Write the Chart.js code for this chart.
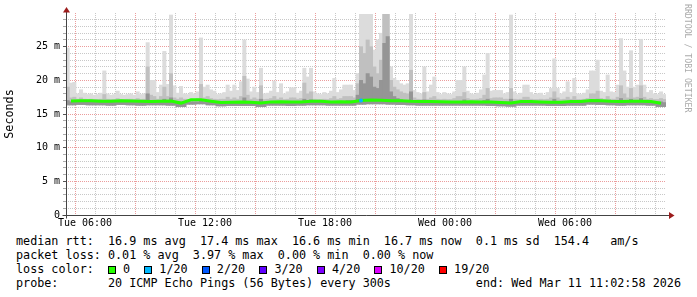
<!DOCTYPE html>
<html>
<head>
<meta charset="utf-8">
<title>Smokeping latency</title>
<script src="https://cdn.jsdelivr.net/npm/chart.js@4.4.1/dist/chart.umd.min.js"></script>
<style>
  body { margin: 0; background: #fff; }
  #wrap { position: relative; width: 697px; height: 297px; background: #fff; overflow: hidden; }
  #chart { position: absolute; left: 0; top: 0; }
  #legend {
    position: absolute; left: 16px; top: 234px;
    font-family: "DejaVu Sans Mono", monospace; font-size: 11.75px; line-height: 14px;
    white-space: pre; color: #000;
  }
  .box { display: inline-block; width: 6px; height: 6px; border: 1px solid #000; vertical-align: -1px; }
  #mark {
    position: absolute; left: 683px; top: 4px;
    writing-mode: vertical-rl;
    font-family: "DejaVu Sans Mono", monospace; font-size: 8.2px; line-height: 9px;
    color: #aaa; white-space: pre;
  }
</style>
</head>
<body>
<div id="wrap">
  <canvas id="chart" width="697" height="232"></canvas>
  <div id="mark">RRDTOOL / TOBI OETIKER</div>
  <div id="legend"></div>
</div>
<script>
// time axis in hours after Tue 00:00; plot covers Tue 05:03 .. Wed 11:03
const windowStart = 5.05;
const windowEnd = 35.05;
const smokeSlot = 1 / 6;   // 10 minute columns
const medianSlot = 0.5;    // 30 minute steps

// upper edge of the light smoke (max ping), ms
const smokeTop = [
  24.8, 19.6, 19.7, 18.0, 18.6, 18.1, 17.9, 18.0, 17.8, 17.9, 18.1, 21.4,
  18.0, 17.8, 17.9, 18.4, 17.9, 17.8, 17.9, 18.0, 17.8, 18.3, 17.9, 18.0,
  25.6, 20.0, 20.0, 18.2, 19.3, 24.3, 19.4, 29.7, 19.2, 18.1, 19.1, 18.0,
  17.9, 18.2, 18.0, 18.3, 26.3, 19.0, 19.3, 18.6, 18.4, 17.9, 18.0, 18.2,
  19.3, 18.4, 19.3, 18.5, 19.8, 26.0, 20.2, 18.3, 19.0, 18.2, 21.8, 18.0,
  18.1, 18.4, 19.9, 18.2, 19.5, 18.0, 18.3, 18.9, 18.9, 18.1, 18.4, 21.8,
  20.5, 21.8, 18.3, 18.0, 17.9, 18.2, 18.0, 18.4, 20.3, 18.2, 18.6, 19.3,
  19.3, 19.3, 18.5, 21.0, 29.8, 29.8, 29.8, 29.8, 24.5, 26.0, 27.0, 29.8,
  29.8, 22.0, 20.3, 20.0, 19.5, 19.3, 19.5, 29.8, 18.5, 18.2, 18.0, 22.0,
  18.3, 19.3, 20.5, 18.2, 17.9, 18.2, 18.0, 17.9, 18.3, 20.0, 20.0, 22.0,
  18.4, 18.0, 17.9, 18.1, 18.6, 20.8, 24.0, 18.4, 18.5, 18.5, 18.5, 18.0,
  18.2, 29.7, 18.3, 17.9, 18.1, 19.3, 19.3, 18.2, 17.9, 18.0, 18.1, 17.8,
  18.2, 18.8, 23.2, 18.8, 18.0, 18.3, 19.8, 18.2, 20.3, 18.0, 17.9, 18.1,
  18.6, 21.4, 21.4, 23.0, 18.4, 18.2, 20.8, 18.3, 18.2, 19.3, 26.2, 21.4,
  19.0, 24.4, 19.0, 19.3, 26.1, 19.3, 18.2, 18.5, 18.0, 17.9, 18.3, 17.9
];

// upper edge of the medium smoke
const smokeMid = [
  19.0, 17.4, 17.5, 17.2, 17.4, 17.2, 17.15, 17.2, 17.15, 17.15, 17.2, 17.9,
  17.2, 17.15, 17.15, 17.3, 17.15, 17.15, 17.2, 17.2, 17.15, 17.3, 17.15, 17.2,
  22.0, 17.8, 17.6, 17.2, 17.6, 19.0, 17.6, 21.0, 17.4, 17.2, 17.4, 17.2,
  17.15, 17.2, 17.15, 17.3, 19.4, 17.4, 17.6, 17.3, 17.2, 17.15, 17.2, 17.2,
  17.5, 17.2, 17.4, 17.2, 17.6, 20.6, 17.8, 17.2, 17.4, 17.2, 19.2, 17.15,
  17.2, 17.3, 17.6, 17.2, 17.4, 17.15, 17.2, 17.4, 17.4, 17.2, 17.3, 19.6,
  18.0, 18.3, 17.2, 17.15, 17.15, 17.2, 17.15, 17.3, 17.6, 17.2, 17.3, 17.6,
  17.6, 17.6, 17.4, 19.5, 25.0, 24.0, 26.0, 25.0, 22.0, 21.0, 23.0, 29.8,
  29.8, 20.0, 19.0, 18.6, 18.3, 18.1, 18.0, 21.5, 17.4, 17.2, 17.15, 18.2,
  17.2, 17.4, 17.6, 17.2, 17.15, 17.2, 17.15, 17.15, 17.3, 17.6, 17.6, 18.2,
  17.3, 17.15, 17.15, 17.2, 17.3, 17.8, 18.8, 17.3, 17.4, 17.4, 17.4, 17.2,
  17.2, 18.8, 17.2, 17.15, 17.2, 17.5, 17.5, 17.2, 17.15, 17.15, 17.2, 17.15,
  17.2, 17.4, 18.3, 17.4, 17.15, 17.2, 17.5, 17.2, 17.6, 17.15, 17.15, 17.2,
  17.3, 18.0, 18.0, 18.4, 17.3, 17.2, 17.6, 17.2, 17.2, 17.5, 19.2, 18.0,
  17.4, 18.8, 17.4, 17.5, 19.2, 17.5, 17.2, 17.3, 17.15, 17.15, 17.3, 17.15
];

// upper edge of the dark smoke core
const smokeDark = [
  17.0, 16.8, 16.8, 16.8, 16.8, 16.8, 16.8, 16.8, 16.8, 16.8, 16.8, 16.9,
  16.8, 16.8, 16.8, 16.8, 16.8, 16.8, 16.8, 16.8, 16.8, 16.8, 16.8, 16.8,
  18.0, 16.9, 16.8, 16.8, 16.8, 17.2, 16.8, 17.4, 16.8, 16.8, 16.8, 16.8,
  16.8, 16.8, 16.8, 16.8, 17.1, 16.8, 16.8, 16.8, 16.8, 16.8, 16.8, 16.8,
  16.8, 16.8, 16.8, 16.8, 16.8, 17.4, 16.9, 16.8, 16.8, 16.8, 17.2, 16.8,
  16.8, 16.8, 16.8, 16.8, 16.8, 16.8, 16.8, 16.8, 16.8, 16.8, 16.8, 17.2,
  17.0, 17.1, 16.8, 16.8, 16.8, 16.8, 16.8, 16.8, 16.8, 16.8, 16.8, 16.8,
  17.0, 17.0, 16.9, 17.8, 20.0, 19.5, 21.0, 20.5, 19.0, 18.8, 20.0, 25.5,
  26.5, 18.3, 17.6, 17.3, 17.1, 17.0, 17.0, 18.3, 16.9, 16.8, 16.8, 17.1,
  16.8, 16.8, 16.9, 16.8, 16.8, 16.8, 16.8, 16.8, 16.8, 16.8, 16.8, 17.1,
  16.8, 16.8, 16.8, 16.8, 16.8, 17.0, 17.2, 16.8, 16.8, 16.8, 16.8, 16.8,
  16.8, 17.2, 16.8, 16.8, 16.8, 16.8, 16.8, 16.8, 16.8, 16.8, 16.8, 16.8,
  16.8, 16.8, 17.2, 16.8, 16.8, 16.8, 16.8, 16.8, 17.0, 16.8, 16.8, 16.8,
  16.8, 17.1, 17.1, 17.2, 16.8, 16.8, 17.0, 16.8, 16.8, 16.8, 17.3, 17.0,
  16.8, 17.2, 16.8, 16.8, 17.3, 16.8, 16.8, 16.8, 16.8, 16.8, 16.8, 16.7
];

// lower edge of the smoke (min ping), 30 minute steps
const smokeLow = [
  16.35, 16.4, 16.35, 16.35, 16.3, 16.4, 16.35, 16.3, 16.35, 16.35, 16.3, 16.1,
  16.45, 16.5, 16.35, 16.2, 16.25, 16.25, 16.25, 16.1, 16.3, 16.3, 16.25, 16.3,
  16.35, 16.35, 16.3, 16.3, 16.3, 16.45, 16.5, 16.5, 16.45, 16.4, 16.35, 16.3,
  16.3, 16.3, 16.3, 16.3, 16.3, 16.3, 16.25, 16.2, 16.15, 16.3, 16.3, 16.3,
  16.25, 16.25, 16.3, 16.3, 16.45, 16.4, 16.35, 16.3, 16.35, 16.35, 16.3, 16.1
];

// median rtt, 30 minute steps
const medianRtt = [
  16.93, 16.95, 16.95, 16.9, 16.88, 16.95, 16.92, 16.88, 16.87, 16.9, 16.92, 16.62,
  17.1, 17.12, 16.9, 16.7, 16.75, 16.78, 16.75, 16.62, 16.8, 16.82, 16.78, 16.8,
  16.9, 16.9, 16.8, 16.82, 16.8, 17.0, 17.08, 17.05, 16.98, 16.95, 16.88, 16.85,
  16.85, 16.82, 16.8, 16.8, 16.82, 16.8, 16.78, 16.72, 16.65, 16.85, 16.85, 16.8,
  16.75, 16.75, 16.85, 16.85, 17.0, 16.95, 16.88, 16.85, 16.88, 16.88, 16.85, 16.6
];

// lost pings out of 20, 30 minute steps
const lossCount = [
  0, 0, 0, 0, 0, 0, 0, 0, 0, 0, 0, 0,
  0, 0, 0, 0, 0, 0, 0, 0, 0, 0, 0, 0,
  0, 0, 0, 0, 0, 1, 0, 0, 0, 0, 0, 0,
  0, 0, 0, 0, 0, 0, 0, 0, 0, 0, 0, 0,
  0, 0, 0, 0, 0, 0, 0, 0, 0, 0, 0, 0
];

const lossSteps = [0, 1, 2, 3, 4, 10, 19];
const lossLabels = ['0', '1/20', '2/20', '3/20', '4/20', '10/20', '19/20'];
const lossColors = ['#26ff00', '#00b8ff', '#0059ff', '#5e00ff', '#7e00ff', '#dd00ff', '#ff0000'];

const timeTickHours = [6, 12, 18, 24, 30];
const timeTickLabels = ['Tue 06:00', 'Tue 12:00', 'Tue 18:00', 'Wed 00:00', 'Wed 06:00'];
const valueTickValues = [0, 5, 10, 15, 20, 25];
const valueTickLabels = ['0', '5 m', '10 m', '15 m', '20 m', '25 m'];

const statLines = [
  'median rtt:  16.9 ms avg  17.4 ms max  16.6 ms min  16.7 ms now  0.1 ms sd  154.4   am/s',
  'packet loss: 0.01 % avg  3.97 % max  0.00 % min  0.00 % now'
];
const probeLine = 'probe:       20 ICMP Echo Pings (56 Bytes) every 300s            end: Wed Mar 11 11:02:58 2026';

// grid: one line per hour, one per ms
const hourLines = [];
for (let h = 6; h <= 35; h++) hourLines.push(h);
const msLines = [];
for (let v = 0; v <= 30; v++) msLines.push(v);

const MONO = '"DejaVu Sans Mono", monospace';
const GRID_MINOR = '#c8c8c8';
const GRID_MAJOR = '#eb9c9c';

function lossColor(n) {
  let c = lossColors[0];
  lossSteps.forEach((s, k) => { if (n >= s) c = lossColors[k]; });
  return c;
}

function smokeBars(tops) {
  return tops.map((top, i) => ({
    x: windowStart + (i + 0.5) * smokeSlot,
    y: [smokeLow[Math.floor(i / 3)], top]
  }));
}

const medianPoints = medianRtt.map((v, j) => ({ x: windowStart + (j + 0.5) * medianSlot, y: v }));

function smokeDataset(tops, color) {
  return {
    type: 'bar',
    data: smokeBars(tops),
    backgroundColor: color,
    borderWidth: 0,
    grouped: false,
    barPercentage: 1,
    categoryPercentage: 1
  };
}

// axis lines with the rrdtool arrow heads
const axisArrows = {
  id: 'axisArrows',
  afterDraw(chart) {
    const { ctx, chartArea } = chart;
    const x = Math.round(chartArea.left) + 0.5;
    const y = Math.round(chartArea.bottom) + 0.5;
    const top = chartArea.top;
    const right = chartArea.right;
    ctx.save();
    ctx.strokeStyle = '#444';
    ctx.lineWidth = 1;
    ctx.beginPath();
    ctx.moveTo(x, y + 3);
    ctx.lineTo(x, top - 3);
    ctx.moveTo(x - 4, y);
    ctx.lineTo(right + 4, y);
    ctx.stroke();
    ctx.fillStyle = '#9c1c1c';
    ctx.beginPath();
    ctx.moveTo(x - 3.5, top - 0.5);
    ctx.lineTo(x + 3.5, top - 0.5);
    ctx.lineTo(x, top - 6);
    ctx.closePath();
    ctx.fill();
    ctx.beginPath();
    ctx.moveTo(right + 3, y - 3.5);
    ctx.lineTo(right + 3, y + 3.5);
    ctx.lineTo(right + 8.5, y);
    ctx.closePath();
    ctx.fill();
    ctx.restore();
  }
};

new Chart(document.getElementById('chart'), {
  type: 'bar',
  data: {
    datasets: [
      {
        type: 'line',
        data: medianPoints,
        borderColor: lossColors[0],
        borderWidth: 3,
        tension: 0,
        pointRadius: ctx => (lossCount[ctx.dataIndex] > 0 ? 2 : 0),
        pointBorderWidth: 0,
        pointBackgroundColor: ctx => lossColor(lossCount[ctx.dataIndex])
      },
      smokeDataset(smokeDark, '#959595'),
      smokeDataset(smokeMid, '#c0c0c0'),
      smokeDataset(smokeTop, '#dcdcdc')
    ]
  },
  options: {
    responsive: false,
    animation: false,
    devicePixelRatio: 1,
    layout: { padding: { left: 0, right: 31, top: 13, bottom: 0 } },
    plugins: { legend: { display: false }, tooltip: { enabled: false } },
    scales: {
      x: {
        type: 'linear',
        min: windowStart,
        max: windowEnd,
        offset: false,
        z: 1,
        afterBuildTicks: axis => { axis.ticks = hourLines.map(h => ({ value: h })); },
        afterFit: axis => { axis.height = 17; },
        grid: {
          color: ctx => (ctx.tick && ctx.tick.value % 3 === 0 ? GRID_MAJOR : GRID_MINOR),
          drawTicks: false
        },
        border: { display: false, dash: [1, 1] },
        ticks: {
          autoSkip: false,
          maxRotation: 0,
          padding: 2,
          color: '#000',
          font: { family: MONO, size: 10 },
          callback: v => {
            const k = timeTickHours.indexOf(v);
            return k >= 0 ? timeTickLabels[k] : '';
          }
        }
      },
      y: {
        type: 'linear',
        min: 0,
        max: 30,
        z: 1,
        afterBuildTicks: axis => { axis.ticks = msLines.map(v => ({ value: v })); },
        afterFit: axis => { axis.width = 66; },
        grid: {
          color: ctx => {
            const v = ctx.tick ? ctx.tick.value : 0;
            if (v === 0 || v === 30) return 'rgba(0,0,0,0)';
            return v % 5 === 0 ? GRID_MAJOR : GRID_MINOR;
          },
          tickLength: 3,
          tickColor: ctx => {
            const v = ctx.tick ? ctx.tick.value : 0;
            if (v === 30) return 'rgba(0,0,0,0)';
            return v % 5 === 0 ? '#555' : '#aaa';
          }
        },
        border: { display: false, dash: [1, 1] },
        ticks: {
          autoSkip: false,
          padding: 3,
          color: '#000',
          font: { family: MONO, size: 10 },
          callback: v => {
            const k = valueTickValues.indexOf(v);
            return k >= 0 ? valueTickLabels[k] : '';
          }
        },
        title: {
          display: true,
          text: 'Seconds',
          color: '#000',
          padding: { top: 3, bottom: 0 },
          font: { family: MONO, size: 11.75 }
        }
      }
    }
  },
  plugins: [axisArrows]
});

// text legend under the graph
const legend = document.getElementById('legend');
statLines.forEach(t => {
  const d = document.createElement('div');
  d.textContent = t;
  legend.appendChild(d);
});
const lossLine = document.createElement('div');
lossLine.appendChild(document.createTextNode('loss color:  '));
lossLabels.forEach((lab, k) => {
  const b = document.createElement('span');
  b.className = 'box';
  b.style.background = lossColors[k];
  lossLine.appendChild(b);
  lossLine.appendChild(document.createTextNode(' ' + lab + (k < lossLabels.length - 1 ? '  ' : '')));
});
legend.appendChild(lossLine);
const probe = document.createElement('div');
probe.textContent = probeLine;
legend.appendChild(probe);
</script>
</body>
</html>
